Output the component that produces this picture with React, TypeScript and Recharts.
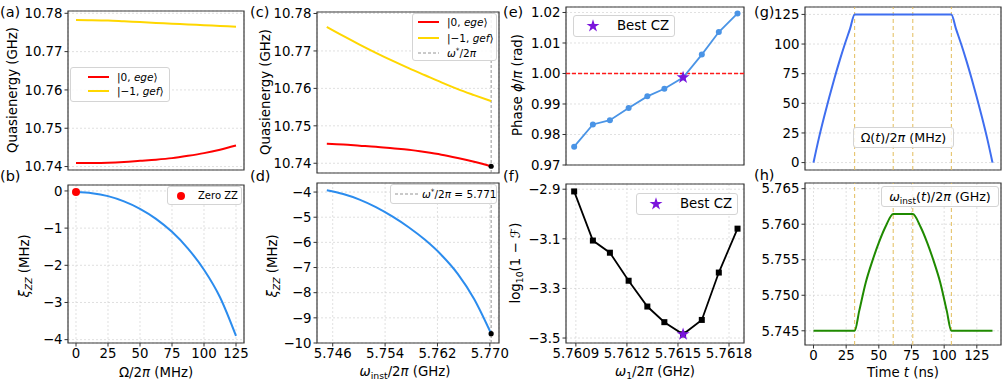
import React from 'react';
import {
  ComposedChart,
  Line,
  XAxis,
  YAxis,
  CartesianGrid,
  ReferenceArea,
  ReferenceLine,
  Scatter,
  Symbols,
} from 'recharts';

const FONT = "'DejaVu Sans', 'Liberation Sans', Arial, sans-serif";

// ---------------- data ----------------
// (a),(b): drive amplitude Omega/2pi (MHz)
const driveAmp = [0, 12.5, 25, 37.5, 50, 62.5, 75, 87.5, 100, 112.5, 125];
const quasiEgeA = [10.7409, 10.74092, 10.741, 10.7412, 10.7415, 10.7418, 10.7422, 10.7428, 10.7435, 10.7444, 10.7455];
const quasiGefA = [10.77825, 10.7782, 10.7781, 10.7779, 10.7777, 10.7775, 10.7773, 10.7771, 10.7769, 10.7767, 10.7765];
const zzVsDrive = [-0.03, -0.06, -0.14, -0.28, -0.48, -0.75, -1.1, -1.55, -2.12, -2.86, -3.9];
const zeroZZAmp = [0];
const zeroZZVal = [-0.03];

// (c),(d): instantaneous frequency (GHz)
const instFreq = [5.7451, 5.7476, 5.7501, 5.7526, 5.7551, 5.7576, 5.7601, 5.7626, 5.7651, 5.7676, 5.7702];
const quasiEgeC = [10.7452, 10.745, 10.7447, 10.7444, 10.744, 10.7436, 10.743, 10.7423, 10.7414, 10.7404, 10.7392];
const quasiGefC = [10.7764, 10.774, 10.7717, 10.7695, 10.7674, 10.7654, 10.7635, 10.7616, 10.7598, 10.7582, 10.7566];
const zzVsFreq = [-3.93, -4.08, -4.3, -4.6, -4.97, -5.4, -5.9, -6.5, -7.25, -8.25, -9.63];
const omegaStar = 5.7702;

// (e),(f): qubit frequency scan
const qubitFreq = [5.76089, 5.761, 5.7611, 5.76121, 5.76132, 5.76142, 5.76153, 5.76164, 5.76174, 5.76185];
const phaseVals = [0.976, 0.9833, 0.9847, 0.9887, 0.9925, 0.995, 0.9987, 1.0062, 1.0136, 1.0197];
const logInfid = [-2.909, -3.107, -3.156, -3.269, -3.373, -3.436, -3.485, -3.427, -3.236, -3.059];
const bestIdx = 6;
const targetPhase = 1.0;

// (g),(h): pulse schedule
const timeDrive = [0, 4, 8, 12, 16, 20, 24, 28, 31.5, 105.5, 109, 113, 117, 121, 125, 129, 133, 137];
const driveProfile = [0, 20, 38, 55, 71, 86, 100, 113, 125, 125, 113, 100, 86, 71, 55, 38, 20, 0];
const timeFreq = [0, 31.5, 35, 40, 45, 50, 55, 61, 76, 82, 87, 92, 97, 102, 105.5, 137];
const freqProfile = [5.745, 5.745, 5.7478, 5.7518, 5.7548, 5.7574, 5.7596, 5.76145, 5.76145, 5.7596, 5.7574, 5.7548, 5.7518, 5.7478, 5.745, 5.745];
const stageTimes = [31.5, 61, 76, 105.5];

// ticks
const driveTicks = [0, 25, 50, 75, 100, 125];
const quasiTicks = [10.74, 10.75, 10.76, 10.77, 10.78];
const zzTicksB = [0, -1, -2, -3, -4];
const freqTicks = [5.746, 5.754, 5.762, 5.77];
const zzTicksD = [-4, -5, -6, -7, -8, -9, -10];
const qubitTicks = [5.7609, 5.7612, 5.7615, 5.7618];
const phaseTicks = [0.97, 0.98, 0.99, 1.0, 1.01, 1.02];
const infidTicks = [-2.9, -3.1, -3.3, -3.5];
const timeTicks = [0, 25, 50, 75, 100, 125];
const ampTicksG = [0, 25, 50, 75, 100, 125];
const freqTicksH = [5.745, 5.75, 5.755, 5.76, 5.765];

// ---------------- helpers ----------------
const pts = (xs: number[], ys: number[]) => xs.map((x, i) => ({ x, y: ys[i] }));
const fmt = (d: number) => (v: number) => (v < 0 ? '\u2212' : '') + Math.abs(v).toFixed(d);

const L = 64;
const T = 6;
const R = 26;
const B = 32;

const tickStyle = { fill: '#000', fontSize: 13.3, fontFamily: FONT };

type PanelProps = {
  r: [number, number, number, number];
  xd: [number, number];
  yd: [number, number];
  xt: number[];
  yt: number[];
  xf?: (v: number) => string;
  yf: (v: number) => string;
  showX: boolean;
  children?: React.ReactNode;
};

function Panel({ r, xd, yd, xt, yt, xf, yf, showX, children }: PanelProps) {
  const [x0, y0, x1, y1] = r;
  const w = x1 - x0 + L + R;
  const h = y1 - y0 + T + B;
  return (
    <div style={{ position: 'absolute', left: x0 - L, top: y0 - T, width: w, height: h }}>
      <ComposedChart width={w} height={h} margin={{ top: T, right: R, bottom: 0, left: 0 }}>
        <CartesianGrid stroke="#d2d2d2" strokeDasharray="2 2" strokeWidth={0.7} />
        <XAxis
          type="number"
          dataKey="x"
          domain={xd}
          ticks={xt}
          allowDataOverflow
          interval={0}
          height={B}
          axisLine={false}
          tickLine={{ stroke: '#333', strokeWidth: 1 }}
          tickSize={3.5}
          tickMargin={2}
          tick={showX ? tickStyle : false}
          tickFormatter={xf}
        />
        <YAxis
          type="number"
          dataKey="y"
          domain={yd}
          ticks={yt}
          allowDataOverflow
          interval={0}
          width={L}
          axisLine={false}
          tickLine={{ stroke: '#333', strokeWidth: 1 }}
          tickSize={3.5}
          tickMargin={2}
          tick={tickStyle}
          tickFormatter={yf}
        />
        {children}
        <ReferenceArea
          x1={xd[0]}
          x2={xd[1]}
          y1={yd[0]}
          y2={yd[1]}
          fill="none"
          fillOpacity={0}
          stroke="#3a3a3a"
          strokeWidth={1.2}
          ifOverflow="visible"
        />
      </ComposedChart>
    </div>
  );
}

type LegendItem = { kind: 'line' | 'dashed' | 'dot' | 'star'; color: string; label: React.ReactNode; cy: number };

function LegendBox(props: {
  left: number;
  top: number;
  width: number;
  height: number;
  items: LegendItem[];
  swatchX: number;
  swatchW: number;
  textX: number;
  fontSize: number;
}) {
  const { left, top, width, height, items, swatchX, swatchW, textX, fontSize } = props;
  return (
    <div
      style={{
        position: 'absolute',
        left,
        top,
        width,
        height,
        background: 'rgba(255,255,255,0.85)',
        border: '1px solid #d4d4d4',
        borderRadius: 3,
        boxSizing: 'border-box',
        fontFamily: FONT,
        fontSize,
        color: '#000',
      }}
    >
      {items.map((it, i) => (
        <React.Fragment key={i}>
          <svg style={{ position: 'absolute', left: swatchX, top: it.cy - 8 }} width={swatchW} height={16}>
            {it.kind === 'line' && <line x1={0} x2={swatchW} y1={8} y2={8} stroke={it.color} strokeWidth={2} />}
            {it.kind === 'dashed' && (
              <line x1={0} x2={swatchW} y1={8} y2={8} stroke={it.color} strokeWidth={0.8} strokeDasharray="3 2" />
            )}
            {it.kind === 'dot' && <circle cx={swatchW / 2} cy={8} r={4} fill={it.color} />}
            {it.kind === 'star' && <Symbols cx={swatchW / 2} cy={8} type="star" size={52} fill={it.color} />}
          </svg>
          <div
            style={{
              position: 'absolute',
              left: textX,
              top: it.cy,
              transform: 'translateY(-50%)',
              whiteSpace: 'nowrap',
              lineHeight: 1,
            }}
          >
            {it.label}
          </div>
        </React.Fragment>
      ))}
    </div>
  );
}

function TextBox(props: { left: number; top: number; width: number; height: number; fontSize: number; children: React.ReactNode }) {
  const { left, top, width, height, fontSize, children } = props;
  return (
    <div
      style={{
        position: 'absolute',
        left,
        top,
        width,
        height,
        background: 'rgba(255,255,255,0.85)',
        border: '1px solid #d4d4d4',
        borderRadius: 3,
        boxSizing: 'border-box',
        fontFamily: FONT,
        fontSize,
        display: 'flex',
        alignItems: 'center',
        justifyContent: 'center',
        whiteSpace: 'nowrap',
        color: '#000',
      }}
    >
      {children}
    </div>
  );
}

function VTitle({ cx, cy, children }: { cx: number; cy: number; children: React.ReactNode }) {
  return (
    <div
      style={{
        position: 'absolute',
        left: cx,
        top: cy,
        transform: 'translate(-50%, -50%) rotate(-90deg)',
        whiteSpace: 'nowrap',
        fontFamily: FONT,
        fontSize: 13.3,
        lineHeight: 1,
        color: '#000',
      }}
    >
      {children}
    </div>
  );
}

function HTitle({ cx, cy, children }: { cx: number; cy: number; children: React.ReactNode }) {
  return (
    <div
      style={{
        position: 'absolute',
        left: cx,
        top: cy,
        transform: 'translate(-50%, -50%)',
        whiteSpace: 'nowrap',
        fontFamily: FONT,
        fontSize: 13.3,
        lineHeight: 1,
        color: '#000',
      }}
    >
      {children}
    </div>
  );
}

function Letter({ x, cy, t }: { x: number; cy: number; t: string }) {
  return (
    <div
      style={{
        position: 'absolute',
        left: x,
        top: cy,
        transform: 'translateY(-50%)',
        fontFamily: FONT,
        fontSize: 14.5,
        lineHeight: 1,
        color: '#000',
      }}
    >
      {t}
    </div>
  );
}

const Sub = ({ children }: { children: React.ReactNode }) => (
  <span style={{ fontSize: '0.7em', verticalAlign: '-0.3em', lineHeight: 0 }}>{children}</span>
);
const Sup = ({ children }: { children: React.ReactNode }) => (
  <span style={{ fontSize: '0.7em', verticalAlign: '0.45em', lineHeight: 0 }}>{children}</span>
);

const RED = '#ff0000';
const GOLD = '#ffd700';
const BLUE = '#2b8cee';
const PURPLE = '#7a14dc';

const starShape = (p: any) => <Symbols cx={p.cx} cy={p.cy} type="star" size={52} fill={PURPLE} />;
const blackDot = (p: any) => <circle cx={p.cx} cy={p.cy} r={2.6} fill="#000" />;
const redDot = (p: any) => <circle cx={p.cx} cy={p.cy} r={4} fill={RED} />;
const squareDot = (p: any) => (
  <rect key={`sq-${p.index}`} x={p.cx - 3} y={p.cy - 3} width={6} height={6} fill="#000" />
);

const driveDomain: [number, number] = [-6.25, 131.25];
const freqDomain: [number, number] = [5.7436, 5.7714];
const qubitDomain: [number, number] = [5.760842, 5.761888];
const timeDomain: [number, number] = [-6.5, 143.5];

export default function App() {
  return (
    <div
      style={{
        position: 'fixed',
        left: 0,
        top: 0,
        width: 1006,
        height: 381,
        background: '#fff',
        overflow: 'hidden',
      }}
    >
      {/* (a) */}
      <Panel r={[68, 11, 244, 170]} xd={driveDomain} yd={[10.7391, 10.7806]} xt={driveTicks} yt={quasiTicks} yf={fmt(2)} showX={false}>
        <Line data={pts(driveAmp, quasiEgeA)} dataKey="y" type="monotone" stroke={RED} strokeWidth={2} dot={false} isAnimationActive={false} />
        <Line data={pts(driveAmp, quasiGefA)} dataKey="y" type="monotone" stroke={GOLD} strokeWidth={2} dot={false} isAnimationActive={false} />
      </Panel>

      {/* (b) */}
      <Panel r={[68, 185, 244, 343]} xd={driveDomain} yd={[-4.09, 0.16]} xt={driveTicks} yt={zzTicksB} xf={fmt(0)} yf={fmt(0)} showX>
        <Line data={pts(driveAmp, zzVsDrive)} dataKey="y" type="monotone" stroke={BLUE} strokeWidth={2} dot={false} isAnimationActive={false} />
        <Scatter data={pts(zeroZZAmp, zeroZZVal)} dataKey="y" shape={redDot} isAnimationActive={false} />
      </Panel>

      {/* (c) */}
      <Panel r={[317, 11.5, 499, 172.5]} xd={freqDomain} yd={[10.7374, 10.7804]} xt={freqTicks} yt={quasiTicks} yf={fmt(2)} showX={false}>
        <ReferenceLine x={omegaStar} stroke="#7a7a7a" strokeDasharray="3 2" strokeWidth={0.8} />
        <Line data={pts(instFreq, quasiEgeC)} dataKey="y" type="monotone" stroke={RED} strokeWidth={2} dot={false} isAnimationActive={false} />
        <Line data={pts(instFreq, quasiGefC)} dataKey="y" type="monotone" stroke={GOLD} strokeWidth={2} dot={false} isAnimationActive={false} />
        <Scatter data={pts([omegaStar], [quasiEgeC[quasiEgeC.length - 1]])} dataKey="y" shape={blackDot} isAnimationActive={false} />
      </Panel>

      {/* (d) */}
      <Panel r={[317, 183, 499, 343]} xd={freqDomain} yd={[-10, -3.64]} xt={freqTicks} yt={zzTicksD} xf={fmt(3)} yf={fmt(0)} showX>
        <ReferenceLine x={omegaStar} stroke="#7a7a7a" strokeDasharray="3 2" strokeWidth={0.8} />
        <Line data={pts(instFreq, zzVsFreq)} dataKey="y" type="monotone" stroke={BLUE} strokeWidth={2} dot={false} isAnimationActive={false} />
        <Scatter data={pts([omegaStar], [zzVsFreq[zzVsFreq.length - 1]])} dataKey="y" shape={blackDot} isAnimationActive={false} />
      </Panel>

      {/* (e) */}
      <Panel r={[566, 7, 744, 165]} xd={qubitDomain} yd={[0.97, 1.0218]} xt={qubitTicks} yt={phaseTicks} yf={fmt(2)} showX={false}>
        <Line
          data={pts(qubitDomain, [targetPhase, targetPhase])}
          dataKey="y"
          type="linear"
          stroke="#ff1a1a"
          strokeWidth={1.5}
          strokeDasharray="4 2"
          dot={false}
          isAnimationActive={false}
        />
        <Line
          data={pts(qubitFreq, phaseVals)}
          dataKey="y"
          type="linear"
          stroke="#4a94e6"
          strokeWidth={1.8}
          dot={{ r: 3, fill: '#4a94e6', stroke: '#4a94e6', strokeWidth: 0 }}
          isAnimationActive={false}
        />
        <Scatter data={pts([qubitFreq[bestIdx]], [phaseVals[bestIdx]])} dataKey="y" shape={starShape} isAnimationActive={false} />
      </Panel>

      {/* (f) */}
      <Panel r={[566, 184, 744, 343]} xd={qubitDomain} yd={[-3.52, -2.879]} xt={qubitTicks} yt={infidTicks} xf={fmt(4)} yf={fmt(1)} showX>
        <Line data={pts(qubitFreq, logInfid)} dataKey="y" type="linear" stroke="#000" strokeWidth={1.8} dot={squareDot} isAnimationActive={false} />
        <Scatter data={pts([qubitFreq[bestIdx]], [logInfid[bestIdx]])} dataKey="y" shape={starShape} isAnimationActive={false} />
      </Panel>

      {/* (g) */}
      <Panel r={[805, 7, 1001, 170]} xd={timeDomain} yd={[-6.25, 131.25]} xt={timeTicks} yt={ampTicksG} yf={fmt(0)} showX={false}>
        {stageTimes.map((t) => (
          <ReferenceLine key={`g${t}`} x={t} stroke="#e3bd5c" strokeDasharray="4 3" strokeWidth={1} />
        ))}
        <Line data={pts(timeDrive, driveProfile)} dataKey="y" type="monotone" stroke="#3f6ef0" strokeWidth={2} dot={false} isAnimationActive={false} />
      </Panel>

      {/* (h) */}
      <Panel r={[805, 183, 1001, 345]} xd={timeDomain} yd={[5.743, 5.7658]} xt={timeTicks} yt={freqTicksH} xf={fmt(0)} yf={fmt(3)} showX>
        {stageTimes.map((t) => (
          <ReferenceLine key={`h${t}`} x={t} stroke="#e3bd5c" strokeDasharray="4 3" strokeWidth={1} />
        ))}
        <Line data={pts(timeFreq, freqProfile)} dataKey="y" type="monotone" stroke="#1f8a00" strokeWidth={2} dot={false} isAnimationActive={false} />
      </Panel>

      {/* legends */}
      <LegendBox
        left={70}
        top={67}
        width={100}
        height={35}
        swatchX={17}
        swatchW={21}
        textX={46}
        fontSize={10.5}
        items={[
          { kind: 'line', color: RED, label: <span>|0, <i>ege</i>⟩</span>, cy: 9 },
          { kind: 'line', color: GOLD, label: <span>|−1, <i>gef</i>⟩</span>, cy: 23 },
        ]}
      />
      <LegendBox
        left={167}
        top={186}
        width={75}
        height={19}
        swatchX={5}
        swatchW={16}
        textX={30}
        fontSize={10}
        items={[{ kind: 'dot', color: RED, label: 'Zero ZZ', cy: 8.5 }]}
      />
      <LegendBox
        left={412}
        top={13}
        width={85}
        height={48}
        swatchX={5}
        swatchW={21}
        textX={34}
        fontSize={10.5}
        items={[
          { kind: 'line', color: RED, label: <span>|0, <i>ege</i>⟩</span>, cy: 8 },
          { kind: 'line', color: GOLD, label: <span>|−1, <i>gef</i>⟩</span>, cy: 23.5 },
          {
            kind: 'dashed',
            color: '#7a7a7a',
            label: (
              <span>
                <i>ω</i>
                <Sup>*</Sup>/2<i>π</i>
              </span>
            ),
            cy: 39,
          },
        ]}
      />
      <LegendBox
        left={390}
        top={184}
        width={107}
        height={20}
        swatchX={4}
        swatchW={23}
        textX={31}
        fontSize={10.5}
        items={[
          {
            kind: 'dashed',
            color: '#7a7a7a',
            label: (
              <span>
                <i>ω</i>
                <Sup>*</Sup>/2<i>π</i> = 5.771
              </span>
            ),
            cy: 9,
          },
        ]}
      />
      <LegendBox
        left={573}
        top={15}
        width={102}
        height={22}
        swatchX={11}
        swatchW={16}
        textX={43}
        fontSize={13.3}
        items={[{ kind: 'star', color: PURPLE, label: 'Best CZ', cy: 10 }]}
      />
      <LegendBox
        left={636}
        top={193}
        width={102}
        height={22}
        swatchX={11}
        swatchW={16}
        textX={43}
        fontSize={13.3}
        items={[{ kind: 'star', color: PURPLE, label: 'Best CZ', cy: 10 }]}
      />
      <TextBox left={853} top={127} width={101} height={21} fontSize={12.7}>
        <span>
          Ω(<i>t</i>)/2<i>π</i> (MHz)
        </span>
      </TextBox>
      <TextBox left={881} top={186} width={118} height={21} fontSize={12.7}>
        <span>
          <i>ω</i>
          <Sub>inst</Sub>(<i>t</i>)/2<i>π</i> (GHz)
        </span>
      </TextBox>

      {/* axis titles */}
      <VTitle cx={12.5} cy={90}>Quasienergy (GHz)</VTitle>
      <VTitle cx={25} cy={266}>
        <i>ξ</i>
        <Sub>
          <i>ZZ</i>
        </Sub>{' '}
        (MHz)
      </VTitle>
      <VTitle cx={265.5} cy={92}>Quasienergy (GHz)</VTitle>
      <VTitle cx={273} cy={266}>
        <i>ξ</i>
        <Sub>
          <i>ZZ</i>
        </Sub>{' '}
        (MHz)
      </VTitle>
      <VTitle cx={517.5} cy={85}>
        Phase <i>ϕ</i>/<i>π</i> (rad)
      </VTitle>
      <VTitle cx={516} cy={263}>
        log<Sub>10</Sub>(1 − <i>ℱ</i>)
      </VTitle>

      <HTitle cx={156} cy={373}>
        Ω/2<i>π</i> (MHz)
      </HTitle>
      <HTitle cx={405} cy={372}>
        <i>ω</i>
        <Sub>inst</Sub>/2<i>π</i> (GHz)
      </HTitle>
      <HTitle cx={655} cy={372}>
        <i>ω</i>
        <Sub>1</Sub>/2<i>π</i> (GHz)
      </HTitle>
      <HTitle cx={903} cy={373}>
        Time <i>t</i> (ns)
      </HTitle>

      {/* panel letters */}
      <Letter x={0} cy={12} t="(a)" />
      <Letter x={0} cy={176} t="(b)" />
      <Letter x={250} cy={12} t="(c)" />
      <Letter x={250} cy={176} t="(d)" />
      <Letter x={503} cy={12} t="(e)" />
      <Letter x={503} cy={176} t="(f)" />
      <Letter x={754} cy={12} t="(g)" />
      <Letter x={754} cy={175} t="(h)" />
    </div>
  );
}
